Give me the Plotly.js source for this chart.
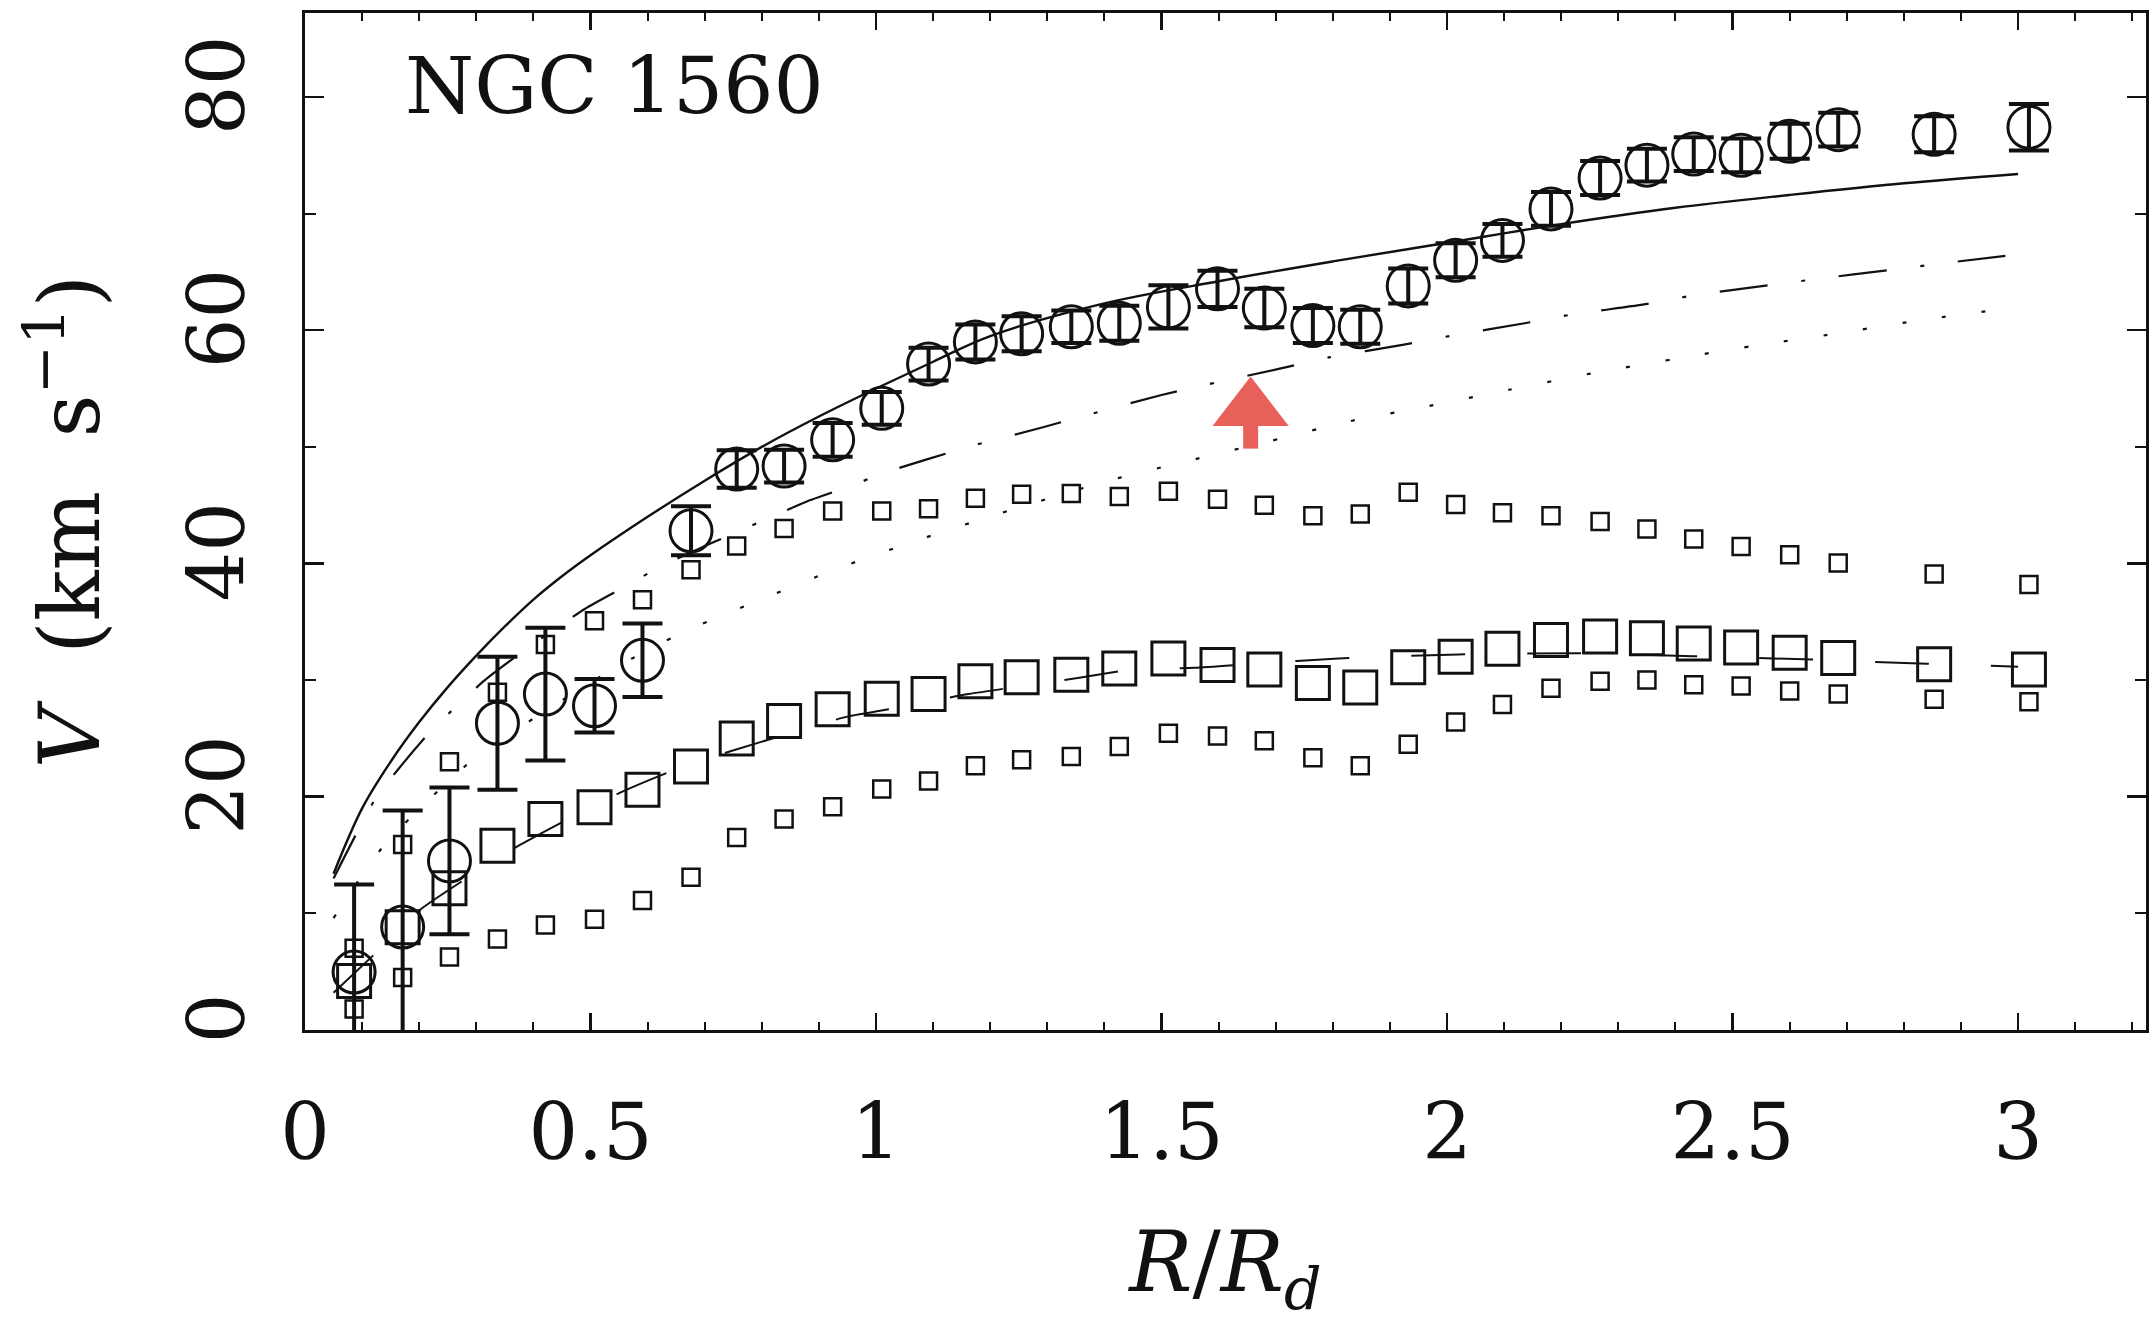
<!DOCTYPE html>
<html>
<head>
<meta charset="utf-8">
<script src="https://cdn.plot.ly/plotly-3.0.1.min.js"></script>
<style>html,body{margin:0;padding:0;background:#fff;}#chart{width:2152px;height:1323px;}</style>
</head>
<body>
<div id="chart"></div>
<script>
// ---- Observed rotation curve (open circles with error bars) ----
const rX = [0.086, 0.171, 0.253, 0.337, 0.421, 0.507, 0.591, 0.676, 0.756, 0.839, 0.924, 1.010, 1.092, 1.174, 1.255, 1.342, 1.426, 1.512, 1.598, 1.680, 1.765, 1.848, 1.932, 2.015, 2.097, 2.182, 2.268, 2.350, 2.432, 2.515, 2.600, 2.685, 2.853, 3.019];
const vObs = [4.97, 8.83, 14.5, 26.3, 28.8, 27.8, 31.7, 42.8, 48.1, 48.35, 50.6, 53.3, 57.1, 59.0, 59.7, 60.3, 60.6, 62.0, 63.55, 61.9, 60.4, 60.3, 63.8, 66.0, 67.7, 70.4, 73.05, 74.15, 75.1, 75.0, 76.2, 77.2, 76.8, 77.4];
const vErr = [7.5, 10.0, 6.3, 5.7, 5.7, 2.3, 3.15, 2.1, 1.6, 1.4, 1.45, 1.4, 1.4, 1.5, 1.5, 1.4, 1.5, 1.85, 1.55, 1.65, 1.5, 1.45, 1.5, 1.45, 1.4, 1.45, 1.45, 1.4, 1.45, 1.45, 1.5, 1.45, 1.55, 2.0];

// ---- Large open squares ----
const vBig = [4.2, 8.8, 12.15, 15.8, 18.1, 19.1, 20.6, 22.6, 25.0, 26.5, 27.5, 28.4, 28.8, 29.9, 30.25, 30.46, 31.0, 31.86, 31.3, 30.9, 29.76, 29.37, 31.1, 32.0, 32.7, 33.44, 33.75, 33.6, 33.15, 32.8, 32.35, 31.9, 31.37, 30.9];

// ---- Small open squares (upper and lower sequences) ----
const vSmallUp = [7.0, 15.9, 23.0, 28.97, 33.05, 35.1, 36.9, 39.46, 41.5, 43.0, 44.5, 44.5, 44.7, 45.6, 45.93, 46.0, 45.75, 46.2, 45.5, 45.0, 44.1, 44.25, 46.1, 45.06, 44.36, 44.1, 43.6, 42.96, 42.1, 41.46, 40.75, 40.05, 39.1, 38.2];
const vSmallLow = [1.8, 4.5, 6.25, 7.8, 9.0, 9.5, 11.1, 13.1, 16.5, 18.1, 19.15, 20.66, 21.36, 22.65, 23.18, 23.45, 24.3, 25.45, 25.2, 24.8, 23.35, 22.66, 24.5, 26.4, 27.9, 29.3, 29.9, 30.0, 29.6, 29.5, 29.07, 28.8, 28.36, 28.15];

// ---- Model curves ----
const totX = [0.05, 0.1, 0.15, 0.2, 0.25, 0.3, 0.35, 0.4, 0.45, 0.5, 0.6, 0.7, 0.8, 0.9, 1.0, 1.1, 1.2, 1.4, 1.6, 1.8, 2.0, 2.2, 2.4, 2.6, 2.8, 3.0];
const totY = [13.4, 19.0, 23.0, 26.4, 29.4, 32.1, 34.6, 36.9, 38.9, 40.7, 44.0, 47.1, 50.0, 52.6, 55.0, 57.3, 59.5, 62.3, 64.2, 65.9, 67.5, 69.1, 70.5, 71.6, 72.6, 73.4];

const dashDotX = [0.05, 0.123, 0.164, 0.216, 0.266, 0.315, 0.38, 0.49, 0.56, 0.621, 0.712, 0.817, 0.878, 0.959, 1.01, 1.162, 1.294, 1.372, 1.5, 1.582, 1.711, 1.793, 1.922, 2.004, 2.136, 2.218, 2.351, 2.433, 2.563, 2.649, 2.775, 2.861, 3.0];
const dashDotY = [13.0, 19.8, 22.4, 25.4, 27.8, 30.0, 32.4, 36.1, 38.0, 39.7, 41.75, 44.0, 45.3, 46.7, 47.7, 50.0, 51.7, 52.76, 54.45, 55.37, 56.75, 57.67, 58.74, 59.5, 60.6, 61.34, 62.26, 63.0, 63.85, 64.4, 65.17, 65.7, 66.5];

const dotX = [0.05, 0.138, 0.292, 0.534, 0.662, 0.793, 0.927, 1.061, 1.198, 1.407, 1.547, 1.688, 1.830, 1.968, 2.109, 2.253, 2.394, 2.535, 2.680, 2.821, 3.0];
const dotY = [9.6, 15.8, 23.1, 30.8, 34.1, 36.8, 39.47, 41.8, 44.0, 47.1, 48.8, 50.47, 52.2, 53.5, 54.9, 56.3, 57.5, 58.65, 59.7, 60.8, 62.0];

const dashX = [0.05, 0.126, 0.2, 0.286, 0.374, 0.467, 0.554, 0.647, 0.745, 0.85, 0.948, 1.045, 1.162, 1.356, 1.45, 1.558, 1.66, 1.81, 2.02, 2.23, 2.43, 2.64, 2.84, 3.0];
const dashY = [3.2, 6.7, 10.25, 13.1, 15.8, 18.25, 20.4, 22.3, 23.9, 25.45, 26.85, 27.7, 28.8, 30.2, 30.9, 31.05, 31.4, 31.86, 32.2, 32.3, 32.05, 31.76, 31.4, 31.15];

// ---- Red arrow mark ----
const arrowX = [1.656];
const arrowHeadY = [53.2];
const arrowTailY = [49.85];

// ---- Axis ticks ----
const xTickVals = [0, 0.5, 1, 1.5, 2, 2.5, 3];
const xTickText = ["0", "0.5", "1", "1.5", "2", "2.5", "3"];
const yTickVals = [0, 20, 40, 60, 80];
const yTickText = ["0", "20", "40", "60", "80"];

const FONT = "DejaVu Serif, Liberation Serif, serif";
const INK = "#111";

const traces = [
  {x: dotX, y: dotY, mode: "lines", line: {color: INK, width: 2.2, dash: "4px,36px", shape: "spline", smoothing: 0.6}, hoverinfo: "skip"},
  {x: dashDotX, y: dashDotY, mode: "lines", line: {color: INK, width: 2.2, dash: "48px,34px,4px,34px", shape: "spline", smoothing: 0.6}, hoverinfo: "skip"},
  {x: dashX, y: dashY, mode: "lines", line: {color: INK, width: 2, dash: "54px,62px", shape: "spline", smoothing: 0.6}, hoverinfo: "skip"},
  {x: totX, y: totY, mode: "lines", line: {color: INK, width: 2.4, shape: "spline", smoothing: 1}, hoverinfo: "skip"},
  {x: rX, y: vSmallUp, mode: "markers", marker: {symbol: "square-open", size: 17, color: INK, line: {width: 2.5, color: INK}}},
  {x: rX, y: vSmallLow, mode: "markers", marker: {symbol: "square-open", size: 17, color: INK, line: {width: 2.5, color: INK}}},
  {x: rX, y: vBig, mode: "markers", marker: {symbol: "square-open", size: 33, color: INK, line: {width: 3, color: INK}}},
  {x: rX, y: vObs, mode: "markers",
   marker: {symbol: "circle-open", size: 42, color: INK, line: {width: 3, color: INK}},
   error_y: {type: "data", array: vErr, visible: true, color: INK, thickness: 4, width: 20}},
  {x: [arrowX[0], arrowX[0]], y: [arrowHeadY[0], arrowTailY[0]], mode: "lines", line: {color: "#e8605a", width: 15}, hoverinfo: "skip"},
  {x: arrowX, y: arrowHeadY, mode: "markers", marker: {symbol: "triangle-up", size: 66, color: "#e8605a", line: {width: 0}}, hoverinfo: "skip"}
];

const axisCommon = {
  showline: true, linecolor: INK, linewidth: 3, mirror: "allticks",
  ticks: "inside", tickcolor: INK, tickwidth: 2.5,
  showgrid: false, zeroline: false, automargin: false,
  tickfont: {family: FONT, size: 78, color: INK}
};

const layout = {
  width: 2152, height: 1323,
  margin: {l: 305, r: 3, t: 13, b: 293},
  paper_bgcolor: "#fff", plot_bgcolor: "#fff",
  showlegend: false,
  font: {family: FONT, color: INK},
  xaxis: Object.assign({}, axisCommon, {
    range: [0, 3.224],
    tickmode: "array", tickvals: xTickVals, ticktext: xTickText,
    ticklen: 17, ticklabelstandoff: 32,
    minor: {ticks: "inside", dtick: 0.1, tick0: 0, ticklen: 8, tickwidth: 2, tickcolor: INK},
    title: {text: "<i>R</i>/<i>R</i><sub><i>d</i></sub>", font: {family: FONT, size: 84, color: INK}}
  }),
  yaxis: Object.assign({}, axisCommon, {
    range: [0, 87.2],
    automargin: true,
    tickmode: "array", tickvals: yTickVals, ticktext: yTickText,
    tickangle: -90, ticklen: 19, ticklabelstandoff: 27,
    minor: {ticks: "inside", dtick: 10, tick0: 0, ticklen: 11, tickwidth: 2, tickcolor: INK},
    title: {text: "<i>V</i>  (km  s<sup>−1</sup>)", font: {family: FONT, size: 84, color: INK}, standoff: 45}
  }),
  annotations: [
    {text: "NGC 1560", xref: "x", yref: "y", x: 0.172, y: 80.95, xanchor: "left", yanchor: "middle",
     showarrow: false, font: {family: FONT, size: 79, color: INK}}
  ]
};

Plotly.newPlot("chart", traces, layout, {staticPlot: true, displayModeBar: false});
</script>
</body>
</html>
